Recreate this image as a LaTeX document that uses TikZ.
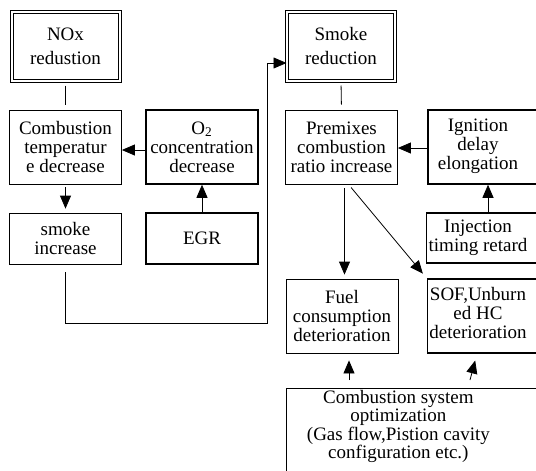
\documentclass[tikz,border=0pt]{standalone}
\usepackage{fontspec}
\setmainfont{Liberation Serif}
\usetikzlibrary{arrows.meta,positioning,calc}
\tikzset{plainbox/.style={draw, line width=0.4pt, minimum width=56pt, minimum height=37pt,
inner sep=1pt, align=center, font=\fontsize{9.5}{9.5}\selectfont},
boldbox/.style={plainbox, line width=0.75pt},
edgebox/.style={boldbox, minimum width=62pt, align=left},
headbox/.style={plainbox, double, line width=0.5pt, double distance=1pt,
minimum width=54pt, minimum height=34.5pt, font=\fontsize{9.5}{12}\selectfont},
arr/.style={-{Triangle[length=6.5pt,width=5.5pt]}, line width=0.4pt},
link/.style={line width=0.4pt, shorten <=2pt, shorten >=2.5pt}}
\newcommand{\lines}[1]{\begin{tabular}{@{}c@{}}#1\end{tabular}\hspace{12pt}}

\begin{document}
\begin{tikzpicture}[x=0.5pt, y=-0.5pt]
        \useasboundingbox (0,0) rectangle (536,471);
        \node[headbox] (nox) at (65.5, 46.5) {NOx\\redustion};
        \node[headbox] (smokered) at (341, 46.5) {Smoke\\reduction};

        \node[plainbox] (combtemp) at (65.5, 147) {Combustion\\temperatur\\e decrease};
        \node[boldbox] (o2) at (202, 147) {O\textsubscript{2}\\concentration\\decrease};
        \node[plainbox] (premix) at (341.5, 147) {Premixes\\combustion\\ratio increase};
        \node[edgebox] (ignition) at (490, 147) {\lines{Ignition\\delay\\elongation}};

        \node[plainbox, minimum height=25.5pt] (smokeinc) at (65.5, 238.5) {smoke\\increase};
        \node[boldbox, minimum height=25.5pt] (egr) at (202, 238.5) {EGR};
        \node[edgebox, minimum height=25pt] (injection) at (490, 238) {\lines{Injection\\timing retard}};

        \node[plainbox] (fuel) at (342, 316) {Fuel\\consumption\\deterioration};
        \node[edgebox] (sof) at (490, 316) {\lines{SOF,Unburn\\ed HC\\deterioration}};

        \node[plainbox, anchor=north west, minimum width=132pt, align=left, text depth=40pt,
              font=\fontsize{9.5}{8.8}\selectfont] (combsys) at (286, 388)
              {\begin{tabular}[t]{@{}c@{}}Combustion system\\optimization\\(Gas flow,Pistion cavity\\configuration etc.)\end{tabular}\hspace{20pt}};

        \coordinate (loopbr) at (267, 323);
        \coordinate (fueltail) at (349, 380);
        \coordinate (softail) at (470, 380);

        \draw (nox.south) edge[link] (combtemp.north)
              (smokered.south) edge[link] (premix.north)

              ([yshift=-1.5pt]o2.west) edge[arr] ([yshift=-1.5pt]combtemp.east)
              (combtemp.south) edge[arr, shorten <=1.5pt, shorten >=2pt] (smokeinc.north)
              (egr.north) edge[arr] (o2.south)

              ([yshift=-0.5pt]ignition.west) edge[arr] ([yshift=-0.5pt]premix.east)
              ([xshift=-1pt]injection.north) edge[arr] ([xshift=-1pt]ignition.south)
              ([xshift=1.5pt]premix.south) edge[arr, shorten <=2pt, shorten >=2pt] ([xshift=1.5pt]premix.south |- fuel.north)
              ([xshift=3.5pt]premix.south) edge[arr, shorten <=2pt, shorten >=3pt] (sof.north west)

              (fueltail) edge[arr, shorten >=3.5pt] (fueltail |- fuel.south)
              (softail) edge[arr, shorten >=3.5pt] ([xshift=-6.5pt]sof.south)
              ;

        \draw[arr, shorten <=4pt] (smokeinc.south) |- (loopbr) |- ([yshift=-8.25pt]smokered.west);
    \end{tikzpicture}
\end{document}
